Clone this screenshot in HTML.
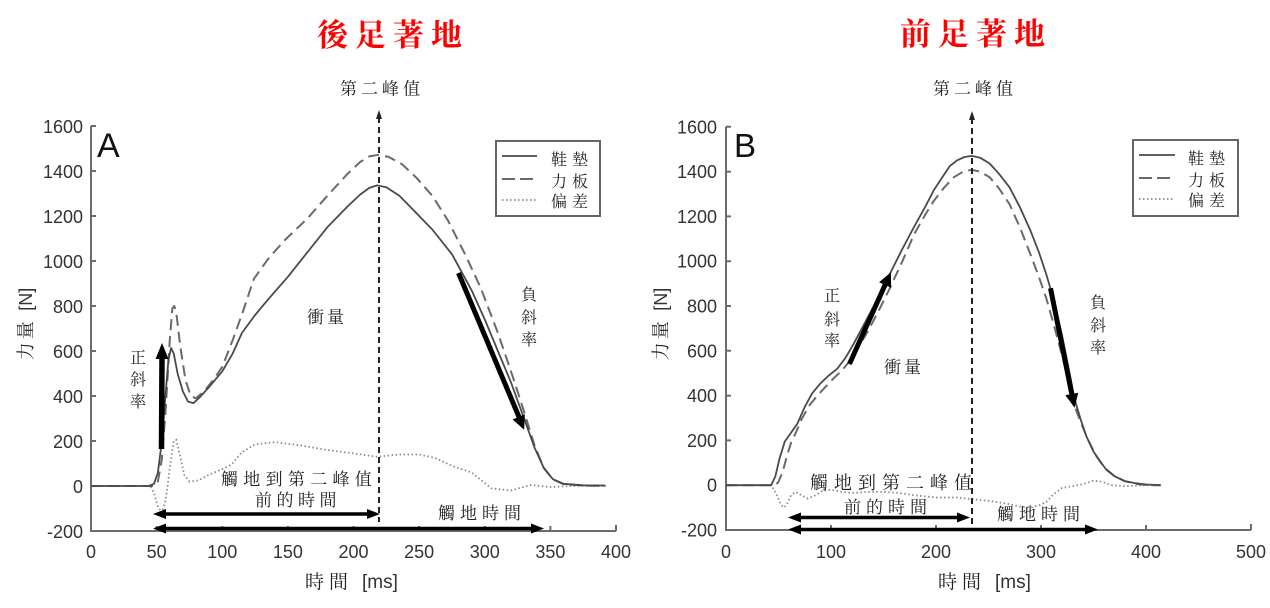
<!DOCTYPE html>
<html><head><meta charset="utf-8">
<style>
html,body{margin:0;padding:0;background:#fff;}
svg{display:block;}
.tk{font-family:"Liberation Sans",Arial,sans-serif;font-size:18px;fill:#333;}
.cj{font-family:"Liberation Serif","Noto Serif CJK SC","Noto Serif CJK TC",serif;fill:#222;}
.ttl{font-family:"Liberation Serif","Noto Serif CJK SC",serif;font-size:31px;font-weight:700;fill:#ff0000;letter-spacing:7px;}
</style></head>
<body>
<svg width="1270" height="608" viewBox="0 0 1270 608" xmlns="http://www.w3.org/2000/svg">
<rect width="1270" height="608" fill="#fff"/>

<!-- Titles -->
<text class="ttl" x="317" y="46">後足著地</text>
<text class="ttl" x="900" y="45">前足著地</text>

<!-- ================= LEFT CHART ================= -->
<g fill="none" stroke="#6b6b6b" stroke-width="2">
  <polyline points="91,126 91,531 616,531"/>
  <path d="M91,126h5M91,171h5M91,216h5M91,261h5M91,306h5M91,351h5M91,396h5M91,441h5M91,486h5"/>
  <path d="M156.6,531v-5M222.3,531v-5M287.9,531v-5M353.5,531v-5M419.1,531v-5M484.8,531v-5M550.4,531v-5M616,531v-6"/>
</g>
<g class="tk" text-anchor="end">
  <text x="83" y="133">1600</text><text x="83" y="178">1400</text><text x="83" y="223">1200</text>
  <text x="83" y="268">1000</text><text x="83" y="313">800</text><text x="83" y="358">600</text>
  <text x="83" y="403">400</text><text x="83" y="448">200</text><text x="83" y="493">0</text>
  <text x="83" y="538">-200</text>
</g>
<g class="tk" text-anchor="middle">
  <text x="91" y="558">0</text><text x="156.6" y="558">50</text><text x="222.3" y="558">100</text>
  <text x="287.9" y="558">150</text><text x="353.5" y="558">200</text><text x="419.1" y="558">250</text>
  <text x="484.8" y="558">300</text><text x="550.4" y="558">350</text><text x="616" y="558">400</text>
</g>
<text x="97" y="157" font-family="Liberation Sans, sans-serif" font-size="34" fill="#111">A</text>

<!-- axis titles -->
<text class="cj" x="305" y="588" font-size="19" letter-spacing="5">時間</text>
<text class="tk" x="362" y="588" style="font-size:19px">[ms]</text>
<g transform="translate(32,324) rotate(-90)">
  <text text-anchor="middle" y="0"><tspan class="cj" font-size="18" letter-spacing="3">力量 </tspan><tspan class="tk">[N]</tspan></text>
</g>

<!-- curves left -->
<polyline fill="none" stroke="#8a8a8a" stroke-width="1.8" stroke-dasharray="1.5 2.5" points="91,486 150.1,486 154,492.8 157.9,506.3 161.9,513 165.8,499.5 169.8,468 173.7,441 176.3,439.9 180.3,456.8 184.2,474.8 189.4,481.5 198.6,480.4 209.1,474.8 222.3,469.1 231.4,464.6 241.9,452.3 255.1,444.4 274.8,442.1 301,445.5 327.3,450 353.5,453.4 377.1,456.8 399.4,454.5 419.1,454.5 434.9,457.9 452,465.8 471.6,472.5 491.3,488.3 511,490.5 530.7,484.9 550.4,487.1 570.1,486 605.5,486"/>
<polyline fill="none" stroke="#6a6a6a" stroke-width="2" stroke-dasharray="11 6" stroke-linejoin="round" points="91,486 154,486 157.9,481.5 161.9,459 165.8,407.3 169.8,339.8 172.4,308.3 174.3,306 176.3,312.8 180.3,346.5 185.5,380.3 190.8,396 196,398.3 203.9,391.5 213.1,380.3 222.3,366.8 232.8,339.8 243.3,310.5 253.8,279 268.2,258.8 285.3,239.6 307.6,218.3 327.3,195.8 347,174.4 360.1,162 369.3,156.4 378.4,154.8 388.9,157 402.1,164.3 416.5,177.8 432.3,195.8 448,220.5 465.1,254.3 480.8,288 497.9,333 511,371.3 524.1,411.8 534.6,445.5 543.8,468 553,479.3 563.5,484.2 583.2,485.5 605.5,486"/>
<polyline fill="none" stroke="#4a4a4a" stroke-width="1.8" stroke-linejoin="round" points="91,486 148.8,486 154,483.8 157.9,472.5 161.9,441 165.8,391.5 168.4,360 171.1,348.1 173.7,353.3 177.6,373.5 182.9,391.5 188.1,401.6 193.4,403.2 199.9,397.1 209.1,387 222.3,371.3 232.8,353.3 241.9,333 255.1,315 268.2,299.3 287.9,276.8 307.6,252 327.3,227.3 347,207 360.1,194.6 369.3,187.9 377.1,185.4 386.3,187.2 399.4,195.8 412.6,209.3 432.3,229.5 452,254.3 471.6,290.3 484.8,319.5 497.9,351 511,382.5 524.1,418.5 534.6,447.8 543.8,468 553,479.3 563.5,483.8 583.2,485.3 605.5,485.5"/>

<!-- vertical dashed peak line left -->
<line x1="379" y1="117" x2="379" y2="522" stroke="#222" stroke-width="2" stroke-dasharray="6 4"/>
<polygon points="379,110 376,119 382,119" fill="#222"/>

<!-- slope arrows left -->
<line x1="161.5" y1="449" x2="162" y2="356" stroke="#000" stroke-width="5.5"/>
<polygon points="162,343 155.5,359 168.5,359" fill="#000"/>
<line x1="458.5" y1="273" x2="519" y2="417" stroke="#000" stroke-width="5"/>
<polygon points="524.1,429.8 524.8,414.3 512.6,419.5" fill="#000"/>

<!-- time arrows left -->
<line x1="162" y1="514" x2="371" y2="514" stroke="#000" stroke-width="3.5"/>
<polygon points="153,514 166,509 166,519" fill="#000"/>
<polygon points="380,514 367,509 367,519" fill="#000"/>
<line x1="162" y1="528.5" x2="535" y2="528.5" stroke="#000" stroke-width="3.5"/>
<polygon points="153,528.5 166,523.5 166,533.5" fill="#000"/>
<polygon points="544,528.5 531,523.5 531,533.5" fill="#000"/>

<!-- annotations left -->
<text class="cj" x="340" y="94.5" font-size="17" letter-spacing="4">第二峰值</text>
<g class="cj" font-size="16" text-anchor="middle">
  <text x="138" y="363">正</text><text x="138" y="385">斜</text><text x="138" y="407">率</text>
  <text x="529" y="300">負</text><text x="529" y="323">斜</text><text x="529" y="345">率</text>
</g>
<text class="cj" x="307" y="323" font-size="17" letter-spacing="3">衝量</text>
<text class="cj" x="221" y="485" font-size="17" letter-spacing="5.3">觸地到第二峰值</text>
<text class="cj" x="255" y="506" font-size="17" letter-spacing="4.5">前的時間</text>
<text class="cj" x="438" y="519" font-size="17" letter-spacing="5">觸地時間</text>

<!-- legend left -->
<rect x="496" y="141" width="104" height="75" fill="#fff" stroke="#666" stroke-width="2"/>
<line x1="502" y1="156" x2="537" y2="156" stroke="#4a4a4a" stroke-width="1.8"/>
<line x1="502" y1="179" x2="537" y2="179" stroke="#6a6a6a" stroke-width="2" stroke-dasharray="13 5"/>
<line x1="502" y1="200" x2="537" y2="200" stroke="#8a8a8a" stroke-width="1.8" stroke-dasharray="1.5 2.5"/>
<g class="cj" font-size="16" letter-spacing="5">
  <text x="551" y="165">鞋墊</text><text x="551" y="187">力板</text><text x="551" y="207">偏差</text>
</g>

<!-- ================= RIGHT CHART ================= -->
<g fill="none" stroke="#6b6b6b" stroke-width="2">
  <polyline points="726,126.8 726,530 1251,530"/>
  <path d="M726,126.8h5M726,171.6h5M726,216.4h5M726,261.2h5M726,306h5M726,350.8h5M726,395.6h5M726,440.4h5M726,485.2h5"/>
  <path d="M831,530v-5M936,530v-5M1041,530v-5M1146,530v-5M1251,530v-6"/>
</g>
<g class="tk" text-anchor="end">
  <text x="717" y="133.3">1600</text><text x="717" y="178.1">1400</text><text x="717" y="222.9">1200</text>
  <text x="717" y="267.7">1000</text><text x="717" y="312.5">800</text><text x="717" y="357.3">600</text>
  <text x="717" y="402.1">400</text><text x="717" y="446.9">200</text><text x="717" y="491.7">0</text>
  <text x="717" y="536.5">-200</text>
</g>
<g class="tk" text-anchor="middle">
  <text x="726" y="558">0</text><text x="831" y="558">100</text><text x="936" y="558">200</text>
  <text x="1041" y="558">300</text><text x="1146" y="558">400</text><text x="1251" y="558">500</text>
</g>
<text x="734" y="157" font-family="Liberation Sans, sans-serif" font-size="33" fill="#111">B</text>

<text class="cj" x="938" y="588" font-size="19" letter-spacing="5">時間</text>
<text class="tk" x="995" y="588" style="font-size:19px">[ms]</text>
<g transform="translate(667,324) rotate(-90)">
  <text text-anchor="middle" y="0"><tspan class="cj" font-size="18" letter-spacing="3">力量 </tspan><tspan class="tk">[N]</tspan></text>
</g>

<!-- curves right -->
<polyline fill="none" stroke="#8a8a8a" stroke-width="1.8" stroke-dasharray="1.5 2.5" points="726,485.2 771.2,485.2 776.4,494.2 780.6,504.2 783.8,507.6 786.9,504.2 791.1,495.3 795.3,491.9 801.6,495.3 807.9,498.6 815.3,495.3 822.6,490.8 831,489.7 841.5,491.9 852,493 867.8,491.9 883.5,491.9 899.3,493 915,495.3 936,497.5 957,497.5 971.7,499.1 988.5,500.9 1004.3,503.1 1020,506.5 1030.5,507.6 1038.9,505.4 1046.3,502 1053.6,494.2 1062,487.9 1072.5,486.3 1083,484.1 1093.5,480.7 1101.9,481.8 1112.4,485.2 1125,486.3 1140.8,485.2 1160.7,485.2"/>
<polyline fill="none" stroke="#6a6a6a" stroke-width="2" stroke-dasharray="11 6" stroke-linejoin="round" points="726,485.2 775.4,485.2 778.5,481.8 782.7,471.8 786.9,456.1 791.1,442.6 796.4,431.4 801.6,419.1 810,404.6 817.4,395.6 825.8,386.6 833.1,378.8 841.5,371 848.9,362 857.3,348.6 865.7,335.1 878.3,311.6 889.8,288.3 902.4,261.2 914,234.5 925.5,214.2 933.9,200.7 944.4,187.3 953.9,177.2 963.3,171.6 971.7,169.8 980.1,171.6 989.6,177.2 999,188.4 1009.5,204.1 1020,227.6 1030.5,254.5 1038.9,276.9 1046.3,298.4 1053.6,323.9 1062,355.3 1068.3,379.9 1074.6,406.1 1080.9,422.5 1088.3,440.4 1095.6,455 1104,467.3 1114.5,476.2 1125,481.2 1137.6,484.1 1150.2,485.2 1160.7,485.2"/>
<polyline fill="none" stroke="#4a4a4a" stroke-width="1.8" stroke-linejoin="round" points="726,485.2 771.2,485.2 775.4,476.2 779.6,458.3 784.8,441.5 791.1,432.6 797.4,423.6 804.8,406.8 812.1,393.4 820.5,383.3 828.9,375.4 837.3,368.7 845.7,357.5 853.1,344.8 862.5,327.3 873,307.6 889.8,274 902.4,248.9 914,227 925.5,206.3 933.9,190 942.3,177.2 949.7,166.2 957,160.4 964.4,157 971.7,155.9 980.1,157.7 989.6,163.5 999,173.8 1009.5,187.3 1020,207.4 1030.5,230.7 1038.9,252.2 1046.3,274.4 1053.6,299.3 1062,335.1 1068.3,366.5 1074.6,399.2 1080.9,420.2 1086.2,435.9 1093.5,451.6 1098.8,459.4 1106.1,469.5 1114.5,476.2 1125,481.2 1134.5,483 1146,484.5 1160.7,485.2"/>

<line x1="972" y1="118" x2="972" y2="525" stroke="#222" stroke-width="2" stroke-dasharray="6 4"/>
<polygon points="972,111 969,120 975,120" fill="#222"/>

<!-- slope arrows right -->
<line x1="849.4" y1="364" x2="885.5" y2="284" stroke="#000" stroke-width="5"/>
<polygon points="890.9,272.2 891.1,287.7 879.1,282.3" fill="#000"/>
<line x1="1050.5" y1="288.3" x2="1072" y2="395" stroke="#000" stroke-width="5"/>
<polygon points="1074.6,407.7 1078.2,392.7 1065.4,395.3" fill="#000"/>

<!-- time arrows right -->
<line x1="797" y1="517.5" x2="961" y2="517.5" stroke="#000" stroke-width="3.5"/>
<polygon points="788,517.5 801,512.5 801,522.5" fill="#000"/>
<polygon points="970,517.5 957,512.5 957,522.5" fill="#000"/>
<line x1="797" y1="529.5" x2="1089" y2="529.5" stroke="#000" stroke-width="3.5"/>
<polygon points="788,529.5 801,524.5 801,534.5" fill="#000"/>
<polygon points="1098,529.5 1085,524.5 1085,534.5" fill="#000"/>

<!-- annotations right -->
<text class="cj" x="933" y="94.5" font-size="17" letter-spacing="4">第二峰值</text>
<g class="cj" font-size="16" text-anchor="middle">
  <text x="832" y="301">正</text><text x="832" y="325">斜</text><text x="832" y="346">率</text>
  <text x="1098" y="308">負</text><text x="1098" y="331">斜</text><text x="1098" y="353">率</text>
</g>
<text class="cj" x="884" y="373" font-size="17" letter-spacing="3">衝量</text>
<text class="cj" x="810" y="489" font-size="18" letter-spacing="6">觸地到第二峰值</text>
<text class="cj" x="844" y="513" font-size="17" letter-spacing="5">前的時間</text>
<text class="cj" x="997" y="520" font-size="17" letter-spacing="5">觸地時間</text>

<!-- legend right -->
<rect x="1133" y="140" width="105" height="76" fill="#fff" stroke="#666" stroke-width="2"/>
<line x1="1139" y1="155" x2="1175" y2="155" stroke="#4a4a4a" stroke-width="1.8"/>
<line x1="1139" y1="178" x2="1175" y2="178" stroke="#6a6a6a" stroke-width="2" stroke-dasharray="13 5"/>
<line x1="1139" y1="199" x2="1175" y2="199" stroke="#8a8a8a" stroke-width="1.8" stroke-dasharray="1.5 2.5"/>
<g class="cj" font-size="16" letter-spacing="5">
  <text x="1188" y="164">鞋墊</text><text x="1188" y="186">力板</text><text x="1188" y="206">偏差</text>
</g>
</svg>
</body></html>
